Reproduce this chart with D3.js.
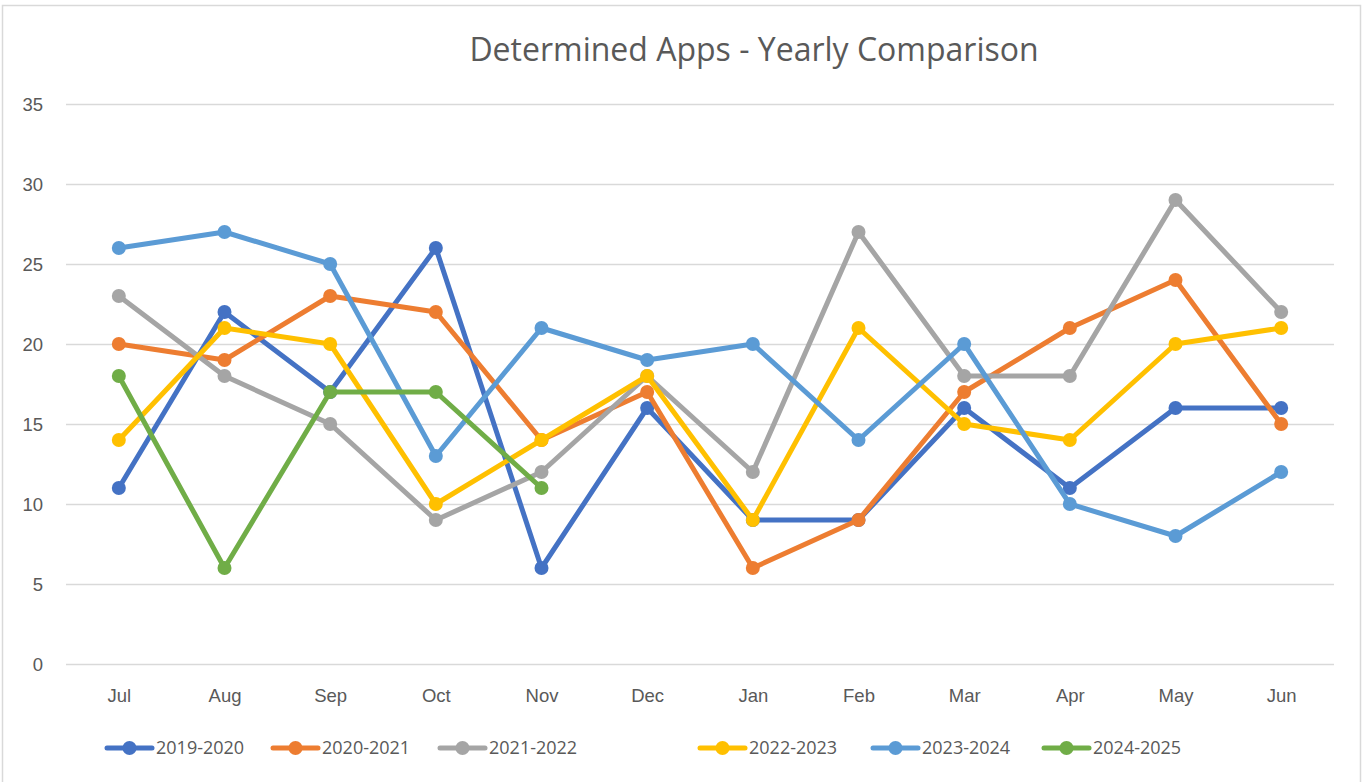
<!DOCTYPE html>
<html>
  <head>
    <meta charset="utf-8">
    <title>Determined Apps - Yearly Comparison</title>
    <style>
      body {
        margin: 0;
        background: #fff;
        font-family: 'Open Sans', Lato, sans-serif;
      }
      .frame {
        fill: #fff;
        stroke: #d9d9d9;
        stroke-width: 1.5;
      }
      .grid line {
        stroke: #d9d9d9;
        stroke-width: 1.5;
      }
      .tick text, .legend text {
        fill: #595959;
        font-size: 18.5px;
      }
      .legend text {
        font-size: 18px;
      }
      .title {
        fill: #595959;
        font-size: 32px;
      }
    </style>
  </head>
  <body>
    <svg width="1369" height="782"></svg>
    <script src="https://d3js.org/d3.v7.min.js"></script>
    <script>
      const months = ['Jul', 'Aug', 'Sep', 'Oct', 'Nov', 'Dec', 'Jan', 'Feb', 'Mar', 'Apr', 'May', 'Jun'];
      const seriesNames = ['2019-2020', '2020-2021', '2021-2022', '2022-2023', '2023-2024', '2024-2025'];
      const seriesColors = ['#4472c4', '#ed7d31', '#a5a5a5', '#ffc000', '#5b9bd5', '#70ad47'];

      const apps2019 = [11, 22, 17, 26, 6, 16, 9, 9, 16, 11, 16, 16];
      const apps2020 = [20, 19, 23, 22, 14, 17, 6, 9, 17, 21, 24, 15];
      const apps2021 = [23, 18, 15, 9, 12, 18, 12, 27, 18, 18, 29, 22];
      const apps2022 = [14, 21, 20, 10, 14, 18, 9, 21, 15, 14, 20, 21];
      const apps2023 = [26, 27, 25, 13, 21, 19, 20, 14, 20, 10, 8, 12];
      const apps2024 = [18, 6, 17, 17, 11];

      const yTicks = [0, 5, 10, 15, 20, 25, 30, 35];

      const allValues = [apps2019, apps2020, apps2021, apps2022, apps2023, apps2024];
      const series = seriesNames.map((name, i) => ({
        name: name,
        color: seriesColors[i],
        values: allValues[i].map((v, j) => ({ month: months[j], value: v }))
      }));

      const svg = d3.select('svg');

      svg.append('rect')
        .attr('class', 'frame')
        .attr('x', 2.5)
        .attr('y', 5.5)
        .attr('width', 1358)
        .attr('height', 790);

      const plot = { left: 66, right: 1334, top: 104, bottom: 664 };

      const x = d3.scalePoint()
        .domain(months)
        .range([plot.left, plot.right])
        .padding(0.5);

      const y = d3.scaleLinear()
        .domain([0, 35])
        .range([plot.bottom, plot.top]);

      svg.append('text')
        .attr('class', 'title')
        .attr('x', 754)
        .attr('y', 61)
        .attr('text-anchor', 'middle')
        .text('Determined Apps - Yearly Comparison');

      // gridlines + y labels
      const yAxis = d3.axisLeft(y)
        .tickValues(yTicks)
        .tickSize(-(plot.right - plot.left))
        .tickPadding(23);

      svg.append('g')
        .attr('class', 'grid')
        .attr('transform', `translate(${plot.left},0)`)
        .call(yAxis)
        .call(g => g.select('.domain').remove())
        .call(g => g.selectAll('.tick text').attr('dy', '0.35em'));

      const xAxis = d3.axisBottom(x)
        .tickSize(0);

      svg.append('g')
        .attr('transform', `translate(0,${plot.bottom})`)
        .call(xAxis)
        .call(g => g.select('.domain').remove())
        .call(g => g.selectAll('.tick text').attr('y', 38).attr('dy', 0));

      const line = d3.line()
        .x(d => x(d.month))
        .y(d => y(d.value));

      const lines = svg.append('g');
      series.forEach(s => {
        const g = lines.append('g');
        g.append('path')
          .datum(s.values)
          .attr('fill', 'none')
          .attr('stroke', s.color)
          .attr('stroke-width', 5)
          .attr('stroke-linejoin', 'round')
          .attr('stroke-linecap', 'round')
          .attr('d', line);
        g.selectAll('circle')
          .data(s.values)
          .enter().append('circle')
            .attr('cx', d => x(d.month))
            .attr('cy', d => y(d.value))
            .attr('r', 7)
            .attr('fill', s.color);
      });

      // legend
      const legendX = [107, 273, 440, 700, 873, 1044];
      const legend = svg.append('g')
        .attr('class', 'legend')
        .attr('transform', 'translate(0,748)');

      const item = legend.selectAll('g')
        .data(series)
        .enter().append('g')
          .attr('transform', (d, i) => `translate(${legendX[i]},0)`);

      item.append('line')
        .attr('x1', 0)
        .attr('x2', 45)
        .attr('stroke', d => d.color)
        .attr('stroke-width', 5)
        .attr('stroke-linecap', 'round');

      item.append('circle')
        .attr('cx', 22.5)
        .attr('r', 7)
        .attr('fill', d => d.color);

      item.append('text')
        .attr('x', 49)
        .attr('dy', '0.35em')
        .text(d => d.name);
    </script>
  </body>
</html>
